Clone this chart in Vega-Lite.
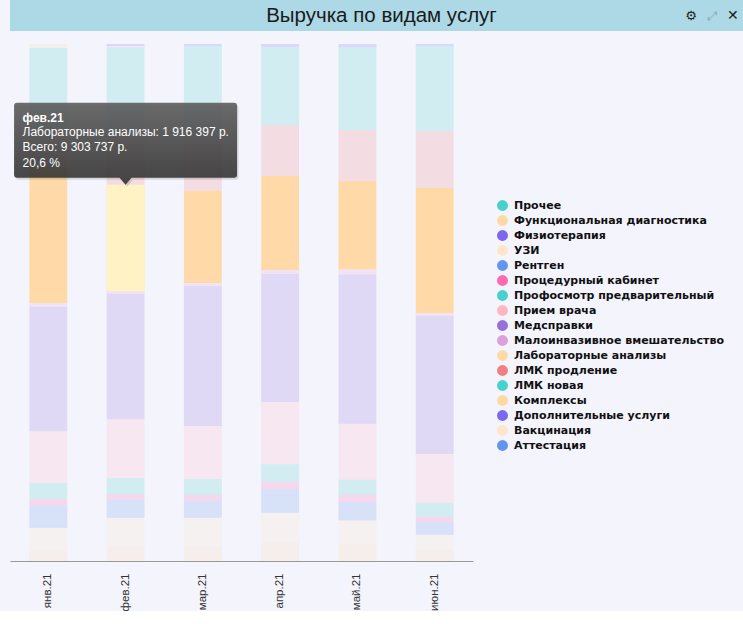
{
  "$schema": "https://vega.github.io/schema/vega-lite/v6.json",
  "background": "#f4f4fc",
  "padding": 0,
  "spacing": 13,
  "config": {
    "view": {"stroke": null},
    "locale": {"number": {"decimal": ",", "thousands": " ", "grouping": [3], "currency": ["", " р."]}},
    "font": "Liberation Sans"
  },
  "datasets": {
    "categories": [
      {"category": "Прочее", "rank": 0},
      {"category": "Функциональная диагностика", "rank": 1},
      {"category": "Физиотерапия", "rank": 2},
      {"category": "УЗИ", "rank": 3},
      {"category": "Рентген", "rank": 4},
      {"category": "Процедурный кабинет", "rank": 5},
      {"category": "Профосмотр предварительный", "rank": 6},
      {"category": "Прием врача", "rank": 7},
      {"category": "Медсправки", "rank": 8},
      {"category": "Малоинвазивное вмешательство", "rank": 9},
      {"category": "Лабораторные анализы", "rank": 10},
      {"category": "ЛМК продление", "rank": 11},
      {"category": "ЛМК новая", "rank": 12},
      {"category": "Комплексы", "rank": 13},
      {"category": "Дополнительные услуги", "rank": 14},
      {"category": "Вакцинация", "rank": 15},
      {"category": "Аттестация", "rank": 16}
    ],
    "revenue": [
      {"month": "янв.21", "category": "Функциональная диагностика", "value": 169870},
      {"month": "янв.21", "category": "УЗИ", "value": 379540},
      {"month": "янв.21", "category": "Рентген", "value": 369610},
      {"month": "янв.21", "category": "Процедурный кабинет", "value": 103960},
      {"month": "янв.21", "category": "Профосмотр предварительный", "value": 268930},
      {"month": "янв.21", "category": "Прием врача", "value": 853020},
      {"month": "янв.21", "category": "Медсправки", "value": 2062480},
      {"month": "янв.21", "category": "Малоинвазивное вмешательство", "value": 54470},
      {"month": "янв.21", "category": "Лабораторные анализы", "value": 2272010},
      {"month": "янв.21", "category": "ЛМК продление", "value": 610540},
      {"month": "янв.21", "category": "ЛМК новая", "value": 1341460},
      {"month": "янв.21", "category": "Комплексы", "value": 66030},

      {"month": "фев.21", "category": "Функциональная диагностика", "value": 256734},
      {"month": "фев.21", "category": "УЗИ", "value": 520618},
      {"month": "фев.21", "category": "Рентген", "value": 330271},
      {"month": "фев.21", "category": "Процедурный кабинет", "value": 95142},
      {"month": "фев.21", "category": "Профосмотр предварительный", "value": 292583},
      {"month": "фев.21", "category": "Прием врача", "value": 1053690},
      {"month": "фев.21", "category": "Медсправки", "value": 2261845},
      {"month": "фев.21", "category": "Малоинвазивное вмешательство", "value": 44870},
      {"month": "фев.21", "category": "Лабораторные анализы", "value": 1916397},
      {"month": "фев.21", "category": "ЛМК продление", "value": 915526},
      {"month": "фев.21", "category": "ЛМК новая", "value": 1556793},
      {"month": "фев.21", "category": "Комплексы", "value": 17950},
      {"month": "фев.21", "category": "Дополнительные услуги", "value": 41318},

      {"month": "мар.21", "category": "Функциональная диагностика", "value": 271684},
      {"month": "мар.21", "category": "УЗИ", "value": 550962},
      {"month": "мар.21", "category": "Рентген", "value": 323047},
      {"month": "мар.21", "category": "Процедурный кабинет", "value": 108281},
      {"month": "мар.21", "category": "Профосмотр предварительный", "value": 304115},
      {"month": "мар.21", "category": "Прием врача", "value": 1006873},
      {"month": "мар.21", "category": "Медсправки", "value": 2660214},
      {"month": "мар.21", "category": "Малоинвазивное вмешательство", "value": 56948},
      {"month": "мар.21", "category": "Лабораторные анализы", "value": 1747936},
      {"month": "мар.21", "category": "ЛМК продление", "value": 1064102},
      {"month": "мар.21", "category": "ЛМК новая", "value": 1690877},
      {"month": "мар.21", "category": "Дополнительные услуги", "value": 38046},

      {"month": "апр.21", "category": "Функциональная диагностика", "value": 364618},
      {"month": "апр.21", "category": "УЗИ", "value": 577241},
      {"month": "апр.21", "category": "Рентген", "value": 462176},
      {"month": "апр.21", "category": "Процедурный кабинет", "value": 142318},
      {"month": "апр.21", "category": "Профосмотр предварительный", "value": 339274},
      {"month": "апр.21", "category": "Прием врача", "value": 1214903},
      {"month": "апр.21", "category": "Медсправки", "value": 2495967},
      {"month": "апр.21", "category": "Малоинвазивное вмешательство", "value": 78034},
      {"month": "апр.21", "category": "Лабораторные анализы", "value": 1838812},
      {"month": "апр.21", "category": "ЛМК продление", "value": 988691},
      {"month": "апр.21", "category": "ЛМК новая", "value": 1520958},
      {"month": "апр.21", "category": "Дополнительные услуги", "value": 58527},

      {"month": "май.21", "category": "Функциональная диагностика", "value": 314472},
      {"month": "май.21", "category": "УЗИ", "value": 431088},
      {"month": "май.21", "category": "Рентген", "value": 345917},
      {"month": "май.21", "category": "Процедурный кабинет", "value": 129534},
      {"month": "май.21", "category": "Профосмотр предварительный", "value": 277461},
      {"month": "май.21", "category": "Прием врача", "value": 1036052},
      {"month": "май.21", "category": "Медсправки", "value": 2756478},
      {"month": "май.21", "category": "Малоинвазивное вмешательство", "value": 92516},
      {"month": "май.21", "category": "Лабораторные анализы", "value": 1627964},
      {"month": "май.21", "category": "ЛМК продление", "value": 943537},
      {"month": "май.21", "category": "ЛМК новая", "value": 1529906},
      {"month": "май.21", "category": "Дополнительные услуги", "value": 61083},

      {"month": "июн.21", "category": "Функциональная диагностика", "value": 203962},
      {"month": "июн.21", "category": "УЗИ", "value": 243127},
      {"month": "июн.21", "category": "Рентген", "value": 210834},
      {"month": "июн.21", "category": "Процедурный кабинет", "value": 95168},
      {"month": "июн.21", "category": "Профосмотр предварительный", "value": 238041},
      {"month": "июн.21", "category": "Прием врача", "value": 827876},
      {"month": "июн.21", "category": "Медсправки", "value": 2346053},
      {"month": "июн.21", "category": "Малоинвазивное вмешательство", "value": 45912},
      {"month": "июн.21", "category": "Лабораторные анализы", "value": 2130087},
      {"month": "июн.21", "category": "ЛМК продление", "value": 968974},
      {"month": "июн.21", "category": "ЛМК новая", "value": 1445031},
      {"month": "июн.21", "category": "Дополнительные услуги", "value": 34016}
    ]
  },
  "vconcat": [
    {
      "width": 743,
      "height": 31,
      "view": {"fill": "#add8e6", "stroke": null},
      "data": {"values": [{}]},
      "encoding": {
        "x": {"type": "quantitative", "scale": {"domain": [0, 1]}, "axis": null}
      },
      "layer": [
        {
          "mark": {"type": "text", "text": "Выручка по видам услуг", "font": "Liberation Sans", "fontSize": 20.5, "color": "#1a1a1a", "baseline": "middle", "align": "center"},
          "encoding": {"x": {"datum": 0.5, "type": "quantitative"}}
        },
        {
          "mark": {"type": "text", "text": "⚙", "font": "DejaVu Sans", "fontSize": 13, "color": "#222222", "baseline": "middle", "align": "center"},
          "encoding": {"x": {"datum": 0.9166, "type": "quantitative"}}
        },
        {
          "mark": {"type": "text", "text": "⤢", "font": "DejaVu Sans", "fontSize": 12, "color": "#8fa6b0", "baseline": "middle", "align": "center"},
          "encoding": {"x": {"datum": 0.9462, "type": "quantitative"}}
        },
        {
          "mark": {"type": "text", "text": "✕", "font": "DejaVu Sans", "fontSize": 14, "color": "#1a1a1a", "baseline": "middle", "align": "center"},
          "encoding": {"x": {"datum": 0.973, "type": "quantitative"}}
        }
      ]
    },
    {
      "width": 463,
      "height": 517,
      "data": {"name": "revenue"},
      "transform": [
        {"lookup": "category", "from": {"data": {"name": "categories"}, "key": "category", "fields": ["rank"]}},
        {"joinaggregate": [{"op": "sum", "field": "value", "as": "total"}], "groupby": ["month"]},
        {"stack": "value", "groupby": ["month"], "offset": "normalize", "sort": [{"field": "rank", "order": "ascending"}], "as": ["y0", "y1"]}
      ],
      "encoding": {
        "x": {
          "field": "month",
          "type": "ordinal",
          "sort": ["янв.21", "фев.21", "мар.21", "апр.21", "май.21", "июн.21"],
          "scale": {"paddingInner": 0.51, "paddingOuter": 0.25},
          "axis": {"title": null, "labelAngle": -90, "labelPadding": 12, "ticks": false, "domainColor": "#999999", "labelFont": "Liberation Sans", "labelFontSize": 11.5, "labelColor": "#333333", "grid": false}
        },
        "y": {
          "field": "y1",
          "type": "quantitative",
          "scale": {"domain": [0, 1], "nice": false},
          "axis": {"title": null, "labels": false, "ticks": false, "domain": false, "grid": false, "minExtent": 10, "maxExtent": 10}
        }
      },
      "layer": [
        {
          "mark": {"type": "bar"},
          "encoding": {
            "y2": {"field": "y0"},
            "color": {
              "field": "category",
              "type": "nominal",
              "scale": {
                "domain": ["Прочее", "Функциональная диагностика", "Физиотерапия", "УЗИ", "Рентген", "Процедурный кабинет", "Профосмотр предварительный", "Прием врача", "Медсправки", "Малоинвазивное вмешательство", "Лабораторные анализы", "ЛМК продление", "ЛМК новая", "Комплексы", "Дополнительные услуги", "Вакцинация", "Аттестация"],
                "range": ["#48d1cc", "#ffd9a3", "#7b68ee", "#ffe6c8", "#6495ed", "#ff69b4", "#48d1cc", "#ffb6c1", "#9370db", "#dda0dd", "#ffdaa8", "#f08080", "#48d1cc", "#ffd9a3", "#7b68ee", "#ffe6c8", "#6495ed"]
              },
              "legend": {
                "orient": "none",
                "legendX": 487,
                "legendY": 200,
                "title": null,
                "padding": 0,
                "symbolType": "circle",
                "symbolSize": 120,
                "symbolStrokeWidth": 0,
                "symbolOpacity": 1,
                "labelFont": "DejaVu Sans",
                "labelFontWeight": "bold",
                "labelFontSize": 11,
                "labelColor": "#111111",
                "labelOffset": 6,
                "labelLimit": 300,
                "rowPadding": 3
              }
            },
            "opacity": {
              "condition": {"test": "datum.category === 'Лабораторные анализы'", "value": 1},
              "value": 0.2
            }
          }
        },
        {
          "transform": [{"filter": "datum.month === 'фев.21' && datum.category === 'Лабораторные анализы'"}],
          "mark": {"type": "bar", "color": "#fff3c6"},
          "encoding": {"y2": {"field": "y0"}}
        },
        {
          "transform": [{"filter": "datum.month === 'фев.21' && datum.category === 'Лабораторные анализы'"}],
          "mark": {
            "type": "point",
            "filled": true,
            "size": 49729,
            "xOffset": 1.5,
            "yOffset": 2,
            "shape": "M -0.973 -0.735 L 0.973 -0.735 Q 1 -0.735 1 -0.708 L 1 -0.09 Q 1 -0.063 0.973 -0.063 L 0.054 -0.063 L 0 0 L -0.054 -0.063 L -0.973 -0.063 Q -1 -0.063 -1 -0.09 L -1 -0.708 Q -1 -0.735 -0.973 -0.735 Z",
            "color": "#000000",
            "opacity": 0.12,
            "strokeWidth": 0
          }
        },
        {
          "transform": [{"filter": "datum.month === 'фев.21' && datum.category === 'Лабораторные анализы'"}],
          "mark": {
            "type": "point",
            "filled": true,
            "size": 49729,
            "shape": "M -0.973 -0.735 L 0.973 -0.735 Q 1 -0.735 1 -0.708 L 1 -0.09 Q 1 -0.063 0.973 -0.063 L 0.054 -0.063 L 0 0 L -0.054 -0.063 L -0.973 -0.063 Q -1 -0.063 -1 -0.09 L -1 -0.708 Q -1 -0.735 -0.973 -0.735 Z",
            "fill": {"gradient": "linear", "x1": 0, "y1": 0, "x2": 0, "y2": 1, "stops": [{"offset": 0, "color": "#5e5e5e"}, {"offset": 1, "color": "#333333"}]},
            "opacity": 0.9,
            "strokeWidth": 0
          }
        },
        {
          "transform": [{"filter": "datum.month === 'фев.21' && datum.category === 'Лабораторные анализы'"}],
          "mark": {"type": "text", "align": "left", "baseline": "middle", "dx": -103, "dy": -67, "font": "Liberation Sans", "fontSize": 12, "fontWeight": "bold", "color": "#ffffff"},
          "encoding": {"text": {"field": "month"}}
        },
        {
          "transform": [
            {"filter": "datum.month === 'фев.21' && datum.category === 'Лабораторные анализы'"},
            {"calculate": "datum.category + ': ' + format(datum.value, ',d') + ' р.\\nВсего: ' + format(datum.total, ',d') + ' р.\\n' + format(datum.value / datum.total * 100, '.1f') + ' %'", "as": "tip"}
          ],
          "mark": {"type": "text", "align": "left", "baseline": "middle", "dx": -103, "dy": -53, "lineBreak": "\n", "lineHeight": 15.5, "font": "Liberation Sans", "fontSize": 12, "color": "#ffffff"},
          "encoding": {"text": {"field": "tip"}}
        }
      ]
    }
  ]
}
